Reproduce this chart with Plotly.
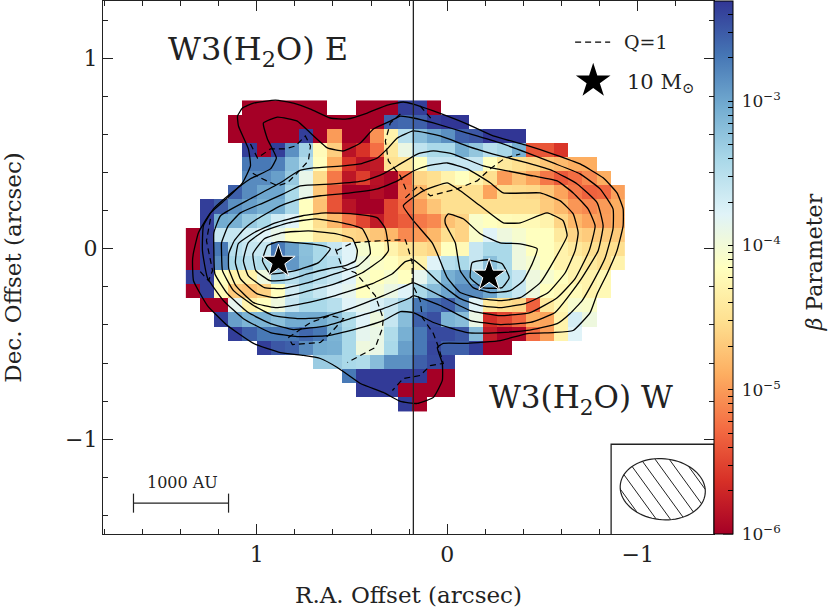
import numpy as np
import plotly.graph_objects as go

n = None

# log10(beta) per map cell, top row first, columns from east (left) to west
beta_rows = [
    [n,n,n,n,-6,-6,-6,-6,-6,-6,n,n,-6,-6,-6,-2.35,-2.35,-6],
    [n,n,n,-6,-6,-6,-6,-6,-6,-6,-6,-6,-6,-6,-2.55,-2.6,-2.55,-2.35,-2.3,-2.3],
    [n,n,n,-6,-6,-6,-6,-6,-2.35,-6,-5.0,-6,-6,-5.05,-4.3,-3.5,-3.18,-3.0,-2.85,-2.55,-2.5,-2.3,-2.3,-2.3],
    [n,n,n,n,-2.35,-6,-2.35,-2.85,-3.35,-4.2,-4.65,-5.85,-5.62,-5.25,-4.42,-3.92,-3.55,-3.41,-3.41,-3.05,-3.25,-3.5,-3.4,-3.07,-5.4,-5.4,-5.6],
    [n,n,n,n,-2.7,-2.7,-2.75,-3.18,-3.5,-4.15,-4.89,-5.62,-5.85,-5.8,-4.5,-4.45,-4.15,-3.6,-3.6,-3.6,-3.6,-4.15,-4.42,-4.52,-4.58,-4.72,-4.8,-4.89,-4.89],
    [n,n,n,n,-2.82,-2.82,-2.95,-3.28,-3.88,-4.55,-5.2,-5.82,-5.55,-5.87,-5.97,-5.25,-4.6,-4.52,-4.3,-4.15,-4.3,-4.52,-5.0,-4.75,-4.95,-5.2,-5.38,-5.26,-5.1,-4.89],
    [n,n,n,-2.55,-2.82,-3.0,-3.0,-3.41,-3.88,-4.7,-5.42,-6,-6,-5.9,-6,-5.2,-4.82,-4.52,-4.52,-4.52,-4.52,-4.95,-4.52,-4.55,-4.58,-4.72,-4.95,-5.2,-5.33,-5.3,-4.97],
    [n,-2.35,-2.52,-2.85,-2.95,-3.07,-3.07,-3.4,-4.15,-4.75,-5.42,-5.85,-6,-6,-5.5,-5.26,-4.98,-4.72,-4.52,-4.52,-4.52,-4.52,-4.52,-4.52,-4.52,-4.68,-4.8,-5.03,-5.1,-5.0,-4.89],
    [n,-2.35,-3.04,-3.07,-3.28,-3.41,-3.68,-3.78,-4.15,-4.52,-4.82,-5.2,-5.5,-5.8,-5.5,-5.36,-5.2,-5.1,-4.75,-4.62,-4.08,-4.15,-4.2,-4.22,-4.22,-4.3,-4.6,-4.82,-4.95,-4.98,-4.89],
    [-6,-2.35,-3.6,-3.6,-3.68,-3.78,-3.88,-4.15,-4.15,-4.42,-4.42,-4.58,-4.62,-4.72,-4.82,-5.1,-5.0,-4.82,-4.52,-4.62,-4.08,-3.78,-3.95,-4.05,-4.15,-4.15,-4.42,-4.6,-4.68,-4.68,-4.68],
    [-6,-2.35,-2.7,-3.5,-3.6,-3.6,-2.7,-2.95,-3.2,-3.41,-3.6,-3.78,-4.05,-4.15,-4.3,-4.5,-4.52,-4.6,-4.15,-4.22,-3.6,-3.41,-3.41,-3.95,-4.15,-4.15,-4.3,-4.42,-4.52,-4.52,-4.52],
    [-6,-2.35,-2.82,-3.41,-3.5,-3.45,-2.7,-2.9,-3.18,-3.41,-3.5,-3.78,-3.95,-4.1,-4.15,-4.3,-4.3,-3.78,-3.5,-3.41,-3.6,-3.2,-3.41,-3.95,-4.05,-4.15,-4.3,-4.3,-4.42,-4.52,-4.3],
    [-2.35,-2.35,-4.15,-4.3,-4.3,-3.95,-3.35,-3.5,-3.35,-3.5,-3.6,-3.78,-4.08,-4.15,-4.05,-4.15,-3.85,-3.45,-3.07,-2.95,-3.1,-3.07,-3.41,-3.6,-3.95,-4.05,-4.15,-4.3,-4.3,-4.22],
    [-6,-2.35,-4.2,-4.68,-4.72,-4.62,-4.15,-3.68,-3.45,-3.6,-3.78,-3.85,-4.15,-4.05,-3.92,-3.78,-3.41,-3.18,-3.0,-2.82,-2.82,-3.0,-3.41,-3.6,-3.95,-4.15,-4.22,-4.2,-4.3,-4.22],
    [n,-6,-6,-3.85,-4.3,-4.15,-3.95,-3.6,-3.41,-3.41,-3.5,-3.78,-3.85,-3.72,-3.6,-3.35,-2.7,-2.62,-2.52,-2.82,-3.78,-4.42,-4.52,-4.58,-5.33,-4.42,-4.22,-4.05,-4.08],
    [n,n,-2.35,-2.95,-3.1,-3.1,-3.2,-3.04,-3.04,-3.04,-3.18,-3.45,-3.78,-3.95,-3.6,-3.18,-2.55,-2.45,-3.1,-3.18,-3.9,-5.65,-5.5,-5.3,-4.89,-4.95,-4.3,-3.7,-3.95],
    [n,n,n,-2.35,-2.55,-2.7,-2.7,-2.7,-2.6,-2.7,-3.1,-3.41,-3.85,-3.9,-3.45,-3.07,-2.7,-2.42,-2.42,-2.5,-3.18,-5.8,-6,-5.95,-5.26,-4.98,-4.3,-3.78],
    [n,n,n,n,n,-2.35,-2.5,-2.55,-2.82,-3.04,-3.07,-3.41,-3.95,-3.9,-3.41,-2.95,-2.7,-2.4,-2.55,-2.55,-2.35,-6,-6],
    [n,n,n,n,n,n,n,n,n,-3.3,-3.3,-3.41,-3.45,-3.18,-2.85,-2.85,-2.55,-2.42,-2.35],
    [n,n,n,n,n,n,n,n,n,n,n,-2.7,-2.33,-2.33,-2.33,-2.33,-2.33,-6,-6],
    [n,n,n,n,n,n,n,n,n,n,n,n,-2.33,-2.33,-2.33,-6,-6,-6,-6],
    [n,n,n,n,n,n,n,n,n,n,n,n,n,n,n,-2.33,-6],
]
cell_ra = [1.335 - 0.07425 * i for i in range(31)]
cell_dec = [0.741 - 0.07424 * j for j in range(22)]

# dust continuum contours, arcsec
c1_ra = [1.075,1.017,.902,.808,.718,.614,.524,.420,.315,.231,.178,.073,-.105,-.241,-.409,-.556,-.697,-.818,-.891,-.923,-.923,-.891,-.839,-.787,-.750,-.661,-.556,-.420,-.278,-.105,.021,.052,.026,.026,.073,.157,.246,.336,.456,.577,.666,.755,.876,1.017,1.154,1.259,1.332,1.337,1.332,1.306,1.243,1.154,1.075,1.033,1.044,1.096,1.101,1.075]
c1_dec = [.738,.764,.780,.764,.733,.686,.681,.712,.754,.770,.759,.723,.654,.592,.545,.497,.445,.372,.293,.209,.120,-.010,-.131,-.236,-.335,-.429,-.440,-.445,-.482,-.497,-.497,-.518,-.602,-.691,-.780,-.812,-.801,-.754,-.707,-.623,-.576,-.560,-.545,-.497,-.403,-.298,-.168,-.063,-.021,.084,.188,.267,.346,.435,.524,.644,.696,.738]
c2_ra = [.965,.891,.787,.718,.629,.545,.456,.388,.299,.246,.178,.073,-.105,-.278,-.420,-.556,-.697,-.802,-.870,-.870,-.829,-.760,-.708,-.645,-.577,-.420,-.278,-.105,.073,.178,.246,.336,.472,.629,.787,.928,1.070,1.175,1.259,1.285,1.280,1.227,1.138,1.033,.928,.897,.944,.965]
c2_dec = [.660,.691,.670,.607,.529,.513,.555,.628,.670,.696,.686,.660,.607,.555,.503,.450,.393,.314,.209,.105,-.047,-.183,-.272,-.340,-.393,-.429,-.440,-.440,-.387,-.335,-.330,-.377,-.419,-.456,-.461,-.440,-.367,-.272,-.152,-.010,.120,.209,.288,.367,.419,.476,.576,.660]
c3_ra = [.178,.037,-.105,-.241,-.420,-.556,-.682,-.787,-.818,-.792,-.697,-.566,-.435,-.278,-.121,.037,.178,.194,.336,.509,.629,.808,.928,1.044,1.154,1.220,1.225,1.225,1.190,1.033,.876,.781,.703,.545,.456,.367,.315,.262,.178]
c3_dec = [.618,.592,.539,.497,.450,.408,.340,.241,.120,-.010,-.168,-.335,-.387,-.398,-.377,-.298,-.246,-.257,-.314,-.367,-.403,-.424,-.393,-.335,-.236,-.131,-.010,.084,.173,.262,.346,.408,.424,.435,.445,.476,.524,.581,.618]
c4_ra = [.073,-.031,-.189,-.451,-.577,-.661,-.739,-.776,-.745,-.671,-.577,-.435,-.278,-.121,.037,.178,.194,.336,.509,.666,.787,.912,1.017,1.122,1.180,1.185,1.185,1.150,1.086,.965,.860,.771,.598,.440,.336,.246,.157,.073]
c4_dec = [.513,.497,.435,.382,.356,.293,.209,.120,-.010,-.157,-.257,-.335,-.351,-.325,-.246,-.178,-.183,-.246,-.314,-.361,-.367,-.351,-.298,-.220,-.115,-.010,.031,.120,.188,.241,.288,.330,.340,.356,.393,.445,.497,.513]
c5_ra = [0,-.105,-.225,-.294,-.488,-.593,-.661,-.687,-.671,-.619,-.530,-.409,-.278,-.173,-.068,.037,.126,.178,.220,.288,.393,.587,.760,.902,1.017,1.110,1.147,1.147,1.118,1.065,.996,.876,.771,.666,.509,.367,.262,.178,.105,0]
c5_dec = [.450,.419,.346,.293,.293,.251,.183,.084,-.010,-.126,-.230,-.288,-.309,-.298,-.262,-.183,-.099,-.058,-.068,-.131,-.183,-.246,-.288,-.309,-.283,-.194,-.105,-.026,.042,.105,.157,.225,.262,.278,.293,.314,.356,.408,.435,.450]
c6_ra = [.231,.126,0,-.068,-.173,-.294,-.383,-.524,-.608,-.629,-.566,-.488,-.383,-.278,-.173,-.068,0,.052,.079,.178,.231]
c6_dec = [.225,.304,.346,.304,.225,.136,.136,.188,.147,.068,-.052,-.178,-.257,-.272,-.262,-.230,-.152,-.026,.031,.147,.225]
c7_ra = [.010,-.005,-.084,-.173,-.278,-.383,-.472,-.446,-.399,-.330,-.225,-.136,-.068,-.042,.010,.010]
c7_dec = [.162,.183,.157,.079,.031,.026,0,-.079,-.168,-.220,-.230,-.204,-.115,.031,.131,.162]
c8_ra = [-.131,-.215,-.288,-.325,-.288,-.184,-.121,-.131]
c8_dec = [-.073,-.058,-.079,-.152,-.204,-.204,-.152,-.073]
c9_ra = [.614,.655,.781,.886,.944,.970,.928,.797,.676,.614]
c9_dec = [0,.016,.031,.037,.016,-.063,-.131,-.115,-.073,0]
c10_ra = [.472,.498,.587,.729,.865,.960,1.020,1.005,.930,.834,.729,.624,.535,.482,.472]
c10_dec = [-.010,.052,.079,.094,.084,.052,-.026,-.115,-.168,-.162,-.131,-.105,-.089,-.063,-.010]
c11_ra = [.404,.414,.446,.551,.692,.834,.960,1.045,1.070,1.045,.960,.865,.729,.587,.467,.404]
c11_dec = [-.026,.042,.105,.136,.157,.136,.094,.031,-.063,-.141,-.204,-.209,-.178,-.131,-.089,-.026]
c12_ra = [.309,.325,.367,.498,.640,.760,.902,1.015,1.097,1.112,1.086,1.000,.902,.760,.587,.446,.341,.309]
c12_dec = [-.010,.105,.162,.183,.188,.173,.136,.084,.026,-.073,-.157,-.236,-.257,-.230,-.183,-.126,-.052,-.010]
contours = [(c1_ra, c1_dec), (c2_ra, c2_dec), (c3_ra, c3_dec), (c4_ra, c4_dec), (c5_ra, c5_dec), (c6_ra, c6_dec),
            (c7_ra, c7_dec), (c8_ra, c8_dec), (c9_ra, c9_dec), (c10_ra, c10_dec), (c11_ra, c11_dec), (c12_ra, c12_dec)]

# Q=1 contours
q1_ra = [.246,.299,.325,.309,.246,.210]
q1_dec = [.707,.660,.565,.461,.382,.293]
q2_ra = [.142,.073]
q2_dec = [.749,.670]
q3_ra = [.220,.152,.089,-.052,-.157,-.225,-.304,-.383]
q3_dec = [.267,.330,.278,.314,.356,.419,.476,.497]
q4_ra = [.582,.498,.351,.220,.205,.184,.184,.142,.131,.073,.047,.021,.089,.142,.231,.288]
q4_dec = [-.010,.031,.042,.047,0,-.073,-.183,-.272,-.361,-.445,-.513,-.602,-.613,-.665,-.681,-.744]
q5_ra = [.587,.551,.482,.378,.336,.341,.378,.456,.524]
q5_dec = [0,-.099,-.126,-.246,-.367,-.419,-.518,-.560,-.597]
q6_ra = [.834,.755,.718,.614,.545,.614,.666,.813,.834]
q6_dec = [-.466,-.414,-.387,-.351,-.367,-.445,-.492,-.503,-.466]
q7_ra = [1.033,.996,.928,.850,.797,.745,.718,.729,.787,.839,.891,.981,1.023]
q7_dec = [.550,.476,.524,.524,.539,.592,.539,.461,.398,.346,.330,.372,.398]
q8_ra = [1.243,1.264,1.232,1.253,1.301]
q8_dec = [.157,.042,-.115,-.168,-.115]
q_lines = [(q1_ra, q1_dec), (q2_ra, q2_dec), (q3_ra, q3_dec), (q4_ra, q4_dec),
           (q5_ra, q5_dec), (q6_ra, q6_dec), (q7_ra, q7_dec), (q8_ra, q8_dec)]

source_ra = [0.886, -0.22]
source_dec = [-0.068, -0.141]

# beam: centre, semi axes (arcsec), tilt
beam_ra, beam_dec = -1.131, -1.262
beam_a, beam_b, beam_tilt = 0.224, 0.160, np.radians(6)

serif = "DejaVu Serif"
ink = "#222222"

beta = [r + [n] * (31 - len(r)) for r in beta_rows]

fig = go.Figure()

major_vals = [-6, -5, -4, -3]
tick_vals = []
tick_text = []
for d in major_vals:
    for k in range(1, 10):
        v = d + np.log10(k)
        if v <= -2.305:
            tick_vals.append(v)
            tick_text.append("\u200510<sup>\u2212%d</sup>" % abs(d) if k == 1 else "")

fig.add_trace(go.Heatmap(
    z=beta, x=cell_ra, y=cell_dec, colorscale="RdYlBu", zmin=-6, zmax=-2.305, hoverongaps=False,
    colorbar=dict(thickness=19, len=1, x=1, xanchor="left", xpad=0, ypad=0, y=0.5, yanchor="middle",
                  outlinecolor="black", outlinewidth=1, ticks="inside", ticklen=5, tickcolor="black",
                  tickvals=tick_vals, ticktext=tick_text, tickfont=dict(family=serif, size=17, color=ink))))

for ra, dec in contours:
    fig.add_trace(go.Scatter(x=ra, y=dec, mode="lines", showlegend=False, hoverinfo="skip",
                             line=dict(color="black", width=1.3, shape="spline", smoothing=0.4)))
for ra, dec in q_lines:
    fig.add_trace(go.Scatter(x=ra, y=dec, mode="lines", showlegend=False, hoverinfo="skip",
                             line=dict(color="black", width=1.2, dash="6px,4px")))

# vertical reference line
fig.add_trace(go.Scatter(x=[0.178, 0.178], y=[-1.5, 1.3], mode="lines", showlegend=False, line=dict(color=ink, width=1.3)))

fig.add_trace(go.Scatter(x=source_ra, y=source_dec, mode="markers", showlegend=False,
                         marker=dict(symbol="star", size=25, color="black", line=dict(color="white", width=1))))

# legend sample and scale bar
fig.add_trace(go.Scatter(x=[-0.671, -0.855], y=[1.084, 1.084], mode="lines", showlegend=False,
                         line=dict(color="black", width=1.2, dash="6px,4px")))
fig.add_trace(go.Scatter(x=[-0.766], y=[0.880], mode="markers", showlegend=False,
                         marker=dict(symbol="star", size=26, color="black")))
fig.add_trace(go.Scatter(x=[1.647, 1.647, None, 1.647, 1.148, None, 1.148, 1.148],
                         y=[-1.285, -1.385, None, -1.335, -1.335, None, -1.285, -1.385],
                         mode="lines", showlegend=False, line=dict(color=ink, width=1.2)))

# beam inset, drawn over the axis ticks
fig.add_shape(type="rect", x0=-0.86, x1=-1.40, y0=-1.5, y1=-1.026, fillcolor="white", line=dict(color=ink, width=1.3))
t = np.linspace(0, 2 * np.pi, 80)
ex = beam_a * np.cos(t) * np.cos(beam_tilt) - beam_b * np.sin(t) * np.sin(beam_tilt)
ey = beam_a * np.cos(t) * np.sin(beam_tilt) + beam_b * np.sin(t) * np.cos(beam_tilt)
path = "M " + " L ".join("%.4f,%.4f" % (beam_ra - a, beam_dec - b) for a, b in zip(ex, ey)) + " Z"
fig.add_shape(type="path", path=path, line=dict(color=ink, width=1.2))
# hatching
ang = np.radians(54)
dx, dy = np.cos(ang), np.sin(ang)
for off in np.arange(-0.24, 0.241, 0.06):
    px, py = -dy * off, dx * off
    ca, sa = np.cos(beam_tilt), np.sin(beam_tilt)
    ux, uy = (dx * ca + dy * sa) / beam_a, (-dx * sa + dy * ca) / beam_b
    wx, wy = (px * ca + py * sa) / beam_a, (-px * sa + py * ca) / beam_b
    A, B, C = ux**2 + uy**2, 2 * (ux * wx + uy * wy), wx**2 + wy**2 - 1
    disc = B**2 - 4 * A * C
    if disc <= 0:
        continue
    s1, s2 = (-B - disc**0.5) / (2 * A), (-B + disc**0.5) / (2 * A)
    fig.add_shape(type="line", x0=beam_ra - (px + s1 * dx), y0=beam_dec - (py + s1 * dy),
                  x1=beam_ra - (px + s2 * dx), y1=beam_dec - (py + s2 * dy), line=dict(color=ink, width=1))

# longer colorbar ticks at the decades
for d in major_vals:
    yy = (d + 6) / 3.695
    fig.add_shape(type="line", xref="paper", yref="paper", x0=1 + 9 / 611, x1=1 + 19 / 611, y0=yy, y1=yy,
                  line=dict(color="black", width=1))

axis_style = dict(showgrid=False, zeroline=False, showline=True, linecolor=ink, linewidth=1.4, mirror="allticks",
                  ticks="inside", ticklen=10, tickwidth=1.1, tickcolor=ink, dtick=1, tickfont=dict(family=serif, size=22, color=ink),
                  minor=dict(dtick=0.2, ticks="inside", ticklen=5, tickwidth=1.1, tickcolor=ink, showgrid=False))

notes = [
    ("W3(H<sub>2</sub>O) E", 0.996, 1.037, 32),
    ("W3(H<sub>2</sub>O) W", -0.70, -0.79, 31),
    ("Q=1", -1.044, 1.084, 19),
    ("10 M<sub>\u2299</sub>", -1.117, 0.869, 21),
    ("1000 AU", 1.39, -1.225, 16),
]
annos = [dict(text=txt, x=x, y=y, xref="x", yref="y", showarrow=False, font=dict(family=serif, size=sz, color=ink))
         for txt, x, y, sz in notes]
# colorbar title, placed by hand so that it does not push the margin
annos.append(dict(text="<i>\u03b2</i> Parameter", x=1.164, y=0.51, xref="paper", yref="paper", textangle=-90,
                  xanchor="center", yanchor="middle", showarrow=False, font=dict(family=serif, size=22, color=ink)))

fig.update_layout(
    width=830, height=608, margin=dict(l=103, r=116, t=1, b=74), autosize=False,
    plot_bgcolor="white", paper_bgcolor="white", showlegend=False, annotations=annos,
    xaxis=dict(range=[1.807, -1.40], title=dict(text="R.A. Offset (arcsec)", font=dict(family=serif, size=23, color=ink), standoff=21), **axis_style),
    yaxis=dict(range=[-1.497, 1.30], title=dict(text="Dec. Offset (arcsec)", font=dict(family=serif, size=23, color=ink), standoff=36), **axis_style),
)

fig.write_html("out.html", post_script="document.body.style.margin='0';", config=dict(displayModeBar=False))
